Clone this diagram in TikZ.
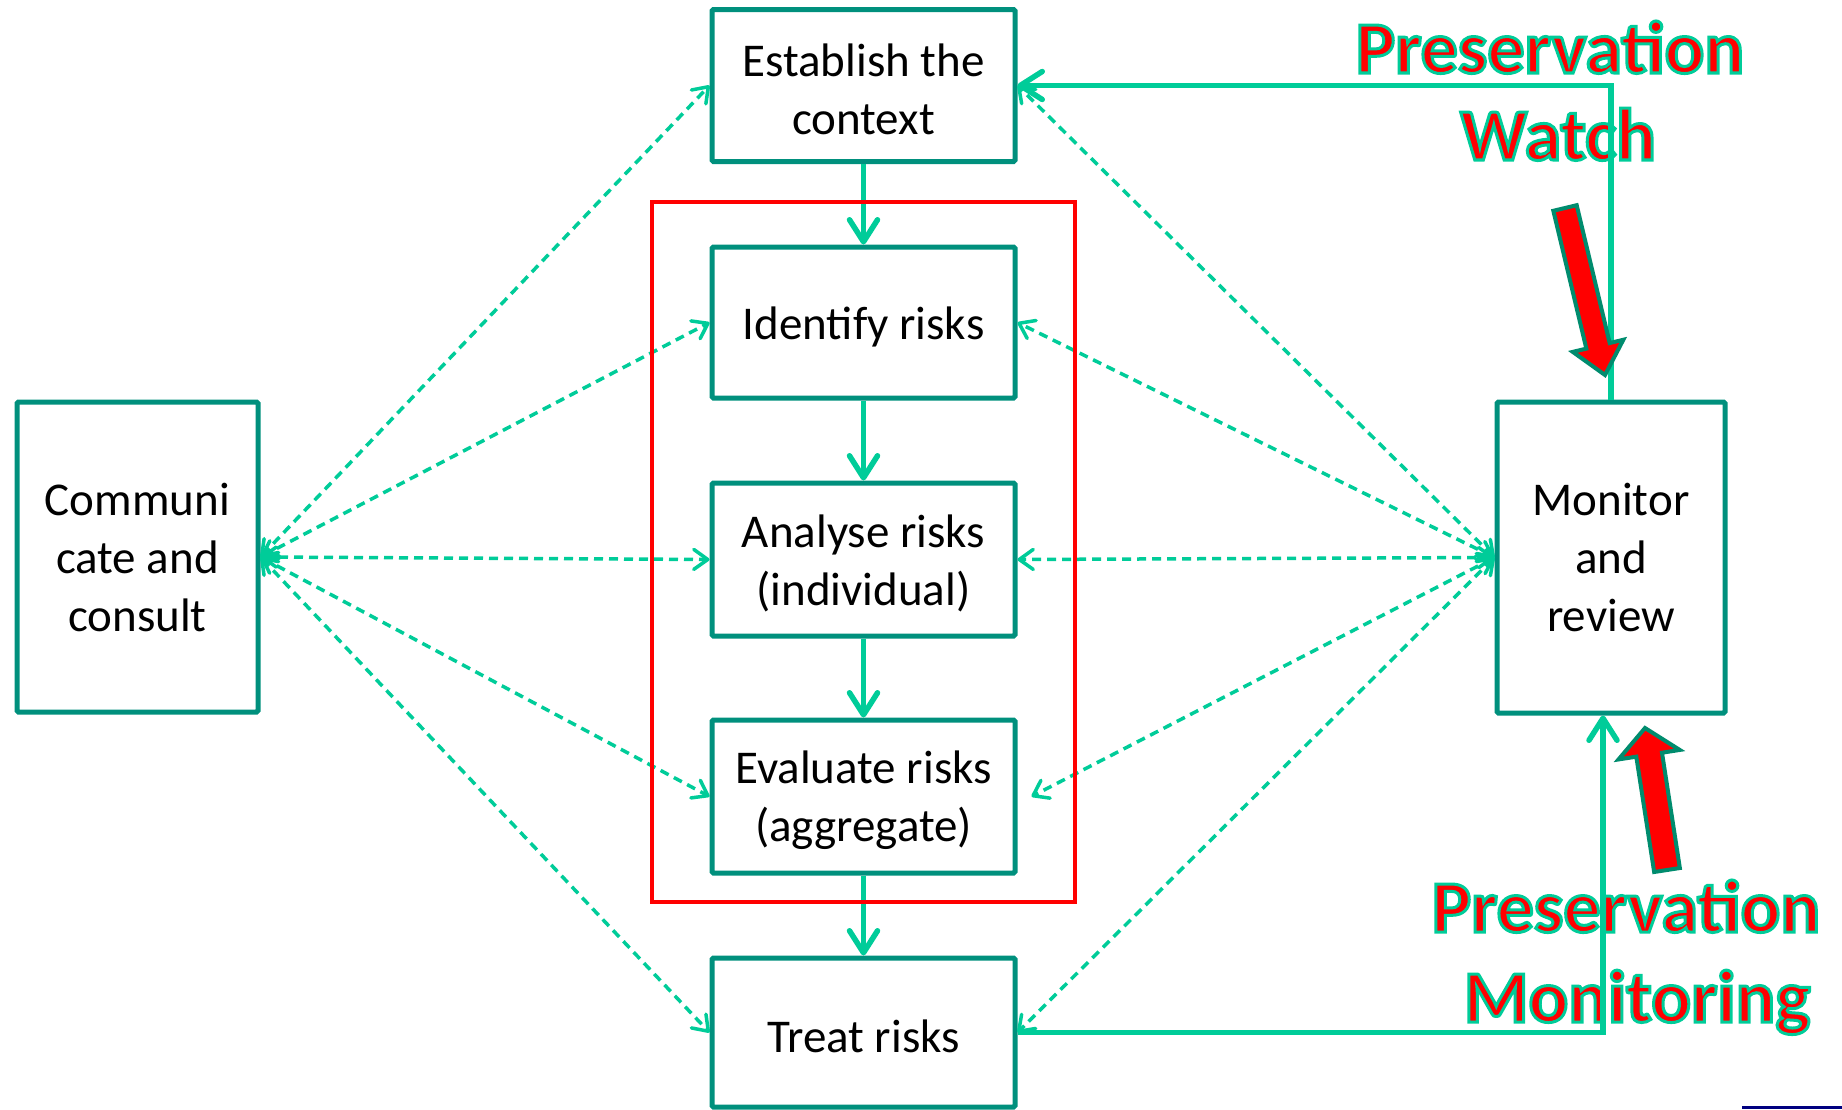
\documentclass[tikz,border=0pt]{standalone}
\usepackage{fontspec}
\setmainfont{Carlito}
\usetikzlibrary{arrows.meta,calc}
\definecolor{boxteal}{RGB}{0,144,125}
\definecolor{linegreen}{RGB}{0,204,153}
\definecolor{arrowteal}{RGB}{0,140,110}
\definecolor{navyline}{RGB}{0,0,128}
\newcommand{\outlinedtext}[1]{\special{pdf:literal direct 2 Tr 3 w 0 0.8 0.6 RG}#1\special{pdf:literal direct 0 Tr}}
\newcommand{\topstrut}{\rule{0pt}{41pt}}
\begin{document}
\begin{tikzpicture}[x=1pt,y=-1pt,
  box/.style={draw=boxteal, line width=5pt, fill=white, rounded corners=1.5pt, align=center, inner sep=0pt, font=\fontsize{47}{58}\selectfont},
  flow/.style={draw=linegreen, line width=5.5pt, -{Straight Barb[length=22pt,width=28pt,line cap=round,line join=round]}},
  link/.style={draw=linegreen, line width=3.5pt, dash pattern=on 9pt off 6pt, {Straight Barb[length=14pt,width=20pt,line cap=round,line join=round]}-{Straight Barb[length=14pt,width=20pt,line cap=round,line join=round]}},
  redlabel/.style={text=red, font=\fontsize{74}{88}\selectfont\bfseries, inner sep=0pt, anchor=base},
  blockarrow/.style={fill=red, draw=arrowteal, line width=4pt, line join=miter},
]
\useasboundingbox (0,0) rectangle (1842,1109);

% red labels
\node[redlabel] (pw1) at (1550,73) {\outlinedtext{Preservation}};
\node[redlabel] (pw2) at (1558,160) {\outlinedtext{Watch}};
\node[redlabel] (pm1) at (1626,932) {\outlinedtext{Preservation}};
\node[redlabel] (pm2) at (1637,1022) {\outlinedtext{Monitoring}};

% boxes
\node[box, minimum width=303pt, minimum height=152pt] (est) at (863.5,85.5) {\topstrut Establish the\\context};
\node[box, minimum width=303pt, minimum height=151pt] (ident) at (863.5,322.5) {\topstrut Identify risks};
\node[box, minimum width=303pt, minimum height=153pt] (anal) at (863.5,559.5) {\topstrut Analyse risks\\(individual)};
\node[box, minimum width=303pt, minimum height=153pt] (eval) at (863.5,796.5) {\topstrut Evaluate risks\\(aggregate)};
\node[box, minimum width=303pt, minimum height=149pt] (treat) at (863.5,1032.5) {\topstrut Treat risks};
\node[box, minimum width=241pt, minimum height=310pt] (comm) at (137.5,557) {Communi\\cate and\\consult};
\node[box, minimum width=228pt, minimum height=311pt] (mon) at (1611,557.5) {Monitor\\and\\review};

% main flow
\draw[flow] (est) -- (ident);
\draw[flow] (ident) -- (anal);
\draw[flow] (anal) -- (eval);
\draw[flow] (eval) -- (treat);
\draw[flow] (mon.north) |- (est.east);
\draw[flow] (treat.east) -| ([xshift=-8pt]mon.south);

% dashed links
\foreach \n in {est,ident,anal,eval,treat} \draw[link] (comm.east) -- (\n.west);
\foreach \n in {est,ident,anal,treat} \draw[link] (mon.west) -- (\n.east);
\draw[link] (mon.west) -- ([xshift=14pt]eval.east);

% red frame
\draw[red, line width=4pt] (652,202) rectangle (1075,902);

% block arrows
\coordinate (wT) at (1565,208);
\coordinate (wH) at (1605,375);
\coordinate (wB) at ($(wH)!30pt!(wT)$);
\path[blockarrow] ($(wT)!12pt!90:(wH)$) -- ($(wB)!12pt!90:(wH)$) -- ($(wB)!26pt!90:(wH)$) -- (wH)
  -- ($(wB)!26pt!-90:(wH)$) -- ($(wB)!12pt!-90:(wH)$) -- ($(wT)!12pt!-90:(wH)$) -- cycle;
\coordinate (mT) at (1667,870);
\coordinate (mH) at (1645,728);
\coordinate (mB) at ($(mH)!27pt!(mT)$);
\path[blockarrow] ($(mT)!13pt!90:(mH)$) -- ($(mB)!13pt!90:(mH)$) -- ($(mB)!31pt!90:(mH)$) -- (mH)
  -- ($(mB)!31pt!-90:(mH)$) -- ($(mB)!13pt!-90:(mH)$) -- ($(mT)!13pt!-90:(mH)$) -- cycle;

% bottom-right line
\draw[navyline, line width=3pt] (1742,1107.5) -- (1842,1107.5);
\end{tikzpicture}
\end{document}
